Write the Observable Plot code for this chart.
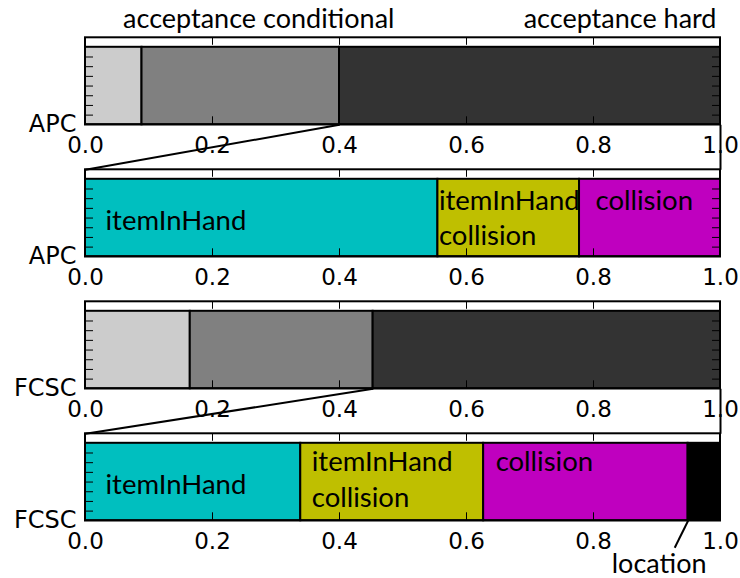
<!DOCTYPE html>
<html><head><meta charset="utf-8">
<script src="https://cdn.jsdelivr.net/npm/d3@7"></script>
<script src="https://cdn.jsdelivr.net/npm/@observablehq/plot@0.6"></script>
<style>body{margin:0;background:#fff;} #chart svg{display:block;}</style>
</head><body><div id="chart"></div>
<script>
// ---- data ----
const panelNames = ["APC", "APC", "FCSC", "FCSC"];
const overviewSegments = ["unlabelled", "acceptance conditional", "acceptance hard"];
const apcOverview = [0.089, 0.311, 0.600];
const fcscOverview = [0.165, 0.288, 0.547];
const failureSegments = ["itemInHand", "itemInHand collision", "collision", "location"];
const apcFailures = [0.555, 0.223, 0.222];
const fcscFailures = [0.339, 0.288, 0.322, 0.051];
const xTicks = [0, 0.2, 0.4, 0.6, 0.8, 1.0];
const xTickLabels = ["0.0", "0.2", "0.4", "0.6", "0.8", "1.0"];
const categories = ["unlabelled", "acceptance conditional", "acceptance hard", "itemInHand", "itemInHand collision", "collision", "location"];
const categoryColors = ["#cccccc", "#808080", "#333333", "#00bfbf", "#bfbf00", "#bf00bf", "#000000"];

// ---- layout ----
const PERIOD = 132;               // px per panel
const BAR_TOP = 9.5 / PERIOD;     // panel units
const BAR_BOTTOM = 87 / PERIOD;
const PX_X = 1 / 635, PX_Y = 1 / PERIOD;
const SANS = "DejaVu Sans";
const HUMAN = "Lato";

const rows = [
  {panel: 0, segs: overviewSegments, values: apcOverview},
  {panel: 1, segs: failureSegments, values: apcFailures},
  {panel: 2, segs: overviewSegments, values: fcscOverview},
  {panel: 3, segs: failureSegments, values: fcscFailures}
];

const segments = rows.flatMap(r => {
  let acc = 0;
  return r.values.map((v, i) => {
    const x1 = acc; acc += v;
    return {panel: r.panel, category: r.segs[i], x1, x2: acc, y1: r.panel + BAR_TOP, y2: r.panel + BAR_BOTTOM};
  });
});

const frames = rows.map(r => ({panel: r.panel, x1: 0, x2: 1, y1: r.panel, y2: r.panel + BAR_BOTTOM}));

const tickRows = rows.flatMap(r => xTicks.map((t, i) => ({panel: r.panel, x: t, label: xTickLabels[i]})));
const innerTicks = tickRows.filter(d => d.x > 0 && d.x < 1);
const yMinor = rows.flatMap(r => d3.range(1, 8).map(k => ({y: r.panel + BAR_TOP + (BAR_BOTTOM - BAR_TOP) * k / 8})));

const connectors = rows.filter(r => r.segs === overviewSegments).flatMap(r => {
  const cond = segments.find(s => s.panel === r.panel && s.category === "acceptance conditional");
  return [
    {x1: cond.x2, y1: r.panel + BAR_BOTTOM, x2: 0, y2: r.panel + 1},
    {x1: 1, y1: r.panel + BAR_BOTTOM, x2: 1, y2: r.panel + 1}
  ];
});

// label offsets (px) for in-bar labels, per panel
const labelOffsets = {
  1: {"itemInHand": [20, 0], "itemInHand collision": [1, 5], "collision": [16, 5]},
  3: {"itemInHand": [20, 0], "itemInHand collision": [11, 2.5], "collision": [12, 2.5]}
};
const inBar = segments.filter(s => labelOffsets[s.panel] && labelOffsets[s.panel][s.category]);
const inBarMarks = inBar.map(s => {
  const [dx, dy] = labelOffsets[s.panel][s.category];
  const middle = s.category === "itemInHand";
  return Plot.text([s], {
    x: "x1", y: d => middle ? (d.y1 + d.y2) / 2 : d.y1,
    text: d => d.category.replace(" ", "\n"),
    textAnchor: "start", lineAnchor: middle ? "middle" : "top", lineHeight: 1.3,
    dx, dy, fontFamily: HUMAN, fontSize: 27.5, fill: "black"
  });
});

const locationSeg = segments.filter(s => s.category === "location");
const condTop = segments.filter(s => s.panel === 0 && s.category === "acceptance conditional");
const hardTop = segments.filter(s => s.panel === 0 && s.category === "acceptance hard");

const chart = Plot.plot({
  width: 740, height: 578,
  marginTop: 0, marginBottom: 0, marginLeft: 0, marginRight: 0,
  x: {domain: [0, 1], range: [85, 720], axis: null},
  y: {domain: [0, 4], range: [37.3, 37.3 + 4 * PERIOD], axis: null},
  color: {domain: categories, range: categoryColors},
  style: {background: "white"},
  marks: [
    Plot.rect(segments, {x1: "x1", x2: "x2", y1: "y1", y2: "y2", fill: "category", stroke: "black", strokeWidth: 2}),
    // inner x ticks: top and bottom
    Plot.ruleX(innerTicks, {x: "x", y1: d => d.panel, y2: d => d.panel + 7.5 * PX_Y, stroke: "black", strokeWidth: 1}),
    Plot.ruleX(innerTicks, {x: "x", y1: d => d.panel + BAR_BOTTOM - 8 * PX_Y, y2: d => d.panel + BAR_BOTTOM, stroke: "black", strokeWidth: 1}),
    // inner y minor ticks left and right
    Plot.ruleY(yMinor, {y: "y", x1: 0, x2: 8 * PX_X, stroke: "black", strokeWidth: 1}),
    Plot.ruleY(yMinor, {y: "y", x1: 1 - 8 * PX_X, x2: 1, stroke: "black", strokeWidth: 1}),
    Plot.rect(frames, {x1: "x1", x2: "x2", y1: "y1", y2: "y2", fill: "none", stroke: "black", strokeWidth: 2}),
    // tick labels
    Plot.text(tickRows, {x: "x", y: d => d.panel + BAR_BOTTOM, text: "label", lineAnchor: "top", dy: 12, fontFamily: SANS, fontSize: 23, fill: "black"}),
    // panel names
    Plot.text(rows, {x: 0, y: d => d.panel + BAR_BOTTOM, text: d => panelNames[d.panel], textAnchor: "end", dx: -9, fontFamily: SANS, fontSize: 24, fill: "black"}),
    // header labels
    Plot.text(condTop, {x: d => (d.x1 + d.x2) / 2, y: d => d.panel, text: "category", lineAnchor: "bottom", dx: 18, dy: -10, fontFamily: HUMAN, fontSize: 27, fill: "black"}),
    Plot.text(hardTop, {x: "x2", y: d => d.panel, text: "category", textAnchor: "end", lineAnchor: "bottom", dx: -4, dy: -10, fontFamily: HUMAN, fontSize: 27, fill: "black"}),
    ...inBarMarks,
    // location callout
    Plot.link(locationSeg, {x1: "x1", y1: "y2", x2: d => d.x1 - 13.4 * PX_X, y2: d => d.y2 + 27 * PX_Y, stroke: "black", strokeWidth: 2}),
    Plot.text(locationSeg, {x: "x1", y: "y2", text: "category", textAnchor: "middle", lineAnchor: "bottom", dx: -29, dy: 52, fontFamily: HUMAN, fontSize: 27, fill: "black"}),
    // zoom connectors
    Plot.link(connectors, {x1: "x1", y1: "y1", x2: "x2", y2: "y2", stroke: "black", strokeWidth: 2})
  ]
});
document.getElementById("chart").append(chart);
</script>
</body></html>
